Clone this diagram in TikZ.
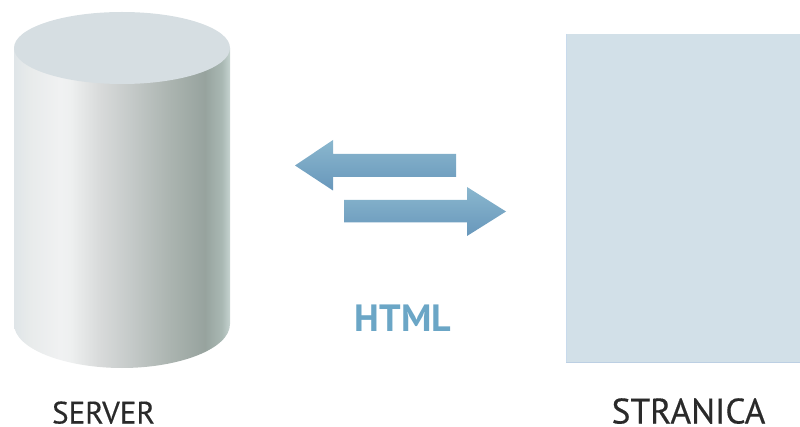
\documentclass[tikz,border=0pt]{standalone}
\usepackage{fontspec}
\setmainfont[FakeBold=0.35]{PT Sans}
\newfontfamily\ptf{PT Sans}
\definecolor{cylA}{HTML}{DFE5E8}
\definecolor{cylB}{HTML}{E8EBEB}
\definecolor{cylC}{HTML}{F0F1F2}
\definecolor{cylC2}{HTML}{EEF0F0}
\definecolor{cylD}{HTML}{D8DADA}
\definecolor{cylE}{HTML}{C5CAC9}
\definecolor{cylF}{HTML}{ABB4B0}
\definecolor{cylG}{HTML}{97A39E}
\definecolor{cylG2}{HTML}{A9B8B3}
\definecolor{cylH}{HTML}{C5D3D0}
\definecolor{cyltop}{HTML}{D6DEE2}
\definecolor{pagefill}{HTML}{D2E0E8}
\definecolor{pageleft}{HTML}{C8DAEC}
\definecolor{pageedge}{HTML}{BCCFE3}
\definecolor{arrowtop}{HTML}{8AB7CE}
\definecolor{arrowbot}{HTML}{6897BB}
\definecolor{htmlblue}{HTML}{6BA6C6}
\definecolor{labelcol}{HTML}{2A2A2A}
\pgfdeclarehorizontalshading{cylshade}{100bp}{
 color(0bp)=(cylA); color(25bp)=(cylA); color(28.7bp)=(cylB); color(35.6bp)=(cylC);
 color(38bp)=(cylC2); color(44.9bp)=(cylD); color(51.9bp)=(cylE); color(61.1bp)=(cylF);
 color(69.2bp)=(cylG); color(73.1bp)=(cylG2); color(75bp)=(cylH); color(100bp)=(cylH)}
\tikzset{
 flowarrow/.style={top color=arrowtop,bottom color=arrowbot,draw=none},
 caption/.style={inner sep=0pt,text=labelcol,anchor=base}
}
\begin{document}
\begin{tikzpicture}[x=1pt,y=-1pt]
\useasboundingbox (0,0) rectangle (800,427);
% cylinder
\path[shading=cylshade,draw=none] (14,48) -- (14,324) .. controls (14,349) and (65,368) .. (122,368) .. controls (179,368) and (230,349) .. (230,324) -- (230,48) -- cycle;
\fill[cyltop] (122,48) ellipse [x radius=108,y radius=36];
% page
\fill[pagefill] (566,34) rectangle (800,363);
\draw[pageleft,line width=1.5pt] (566.5,34) -- (566.5,363);
\draw[pageedge,line width=1.5pt] (566,362.5) -- (800,362.5);
% arrows
\path[flowarrow] (295,165.5) -- (333,140) -- (333,154) -- (456,154) -- (456,177) -- (333,177) -- (333,190.5) -- cycle;
\path[flowarrow] (506,211.5) -- (467,187) -- (467,200) -- (344,200) -- (344,222.5) -- (467,222.5) -- (467,236) -- cycle;
% labels
\node[inner sep=0pt,anchor=base,font=\ptf\bfseries\fontsize{38}{38}\selectfont,text=htmlblue] (html) at (403,332) {HTML};
\node[caption,font=\fontsize{31}{31}\selectfont] (server) at (103.5,423.5) {SERVER};
\node[caption,font=\fontsize{35.5}{35.5}\selectfont] (stranica) at (688.5,423.5) {STRANICA};
\end{tikzpicture}
\end{document}
